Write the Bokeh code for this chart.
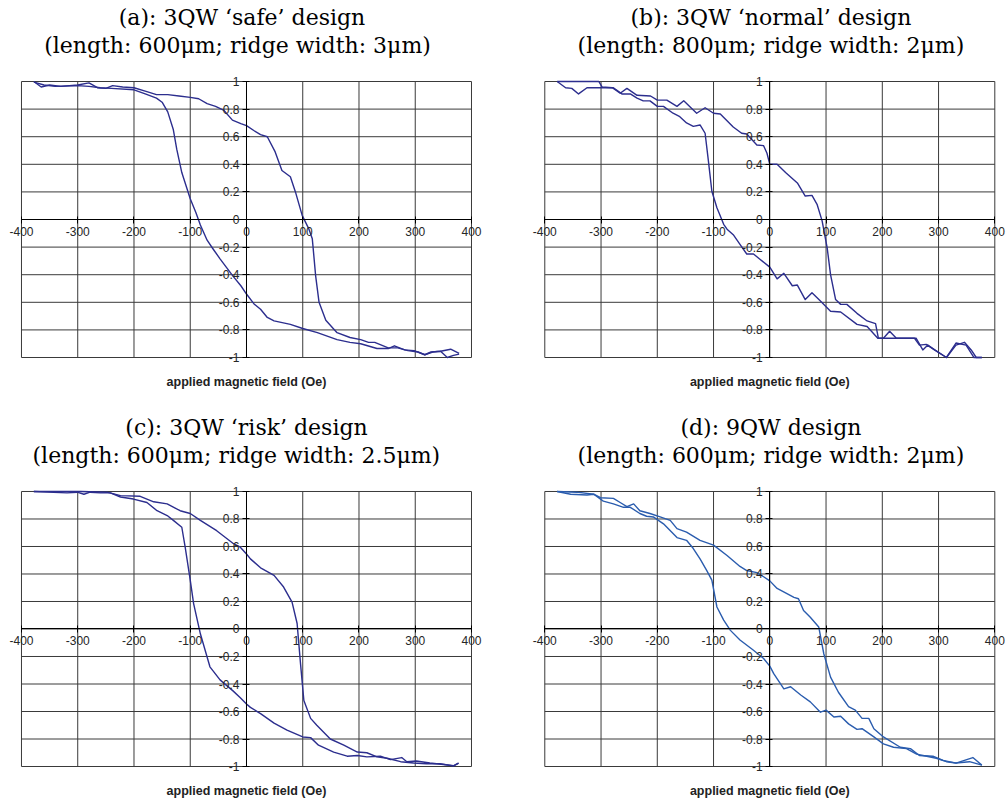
from bokeh.plotting import figure
from bokeh.models import Range1d, FixedTicker, LinearAxis, Label
from bokeh.layouts import column, row
from bokeh.embed import file_html
from bokeh.resources import INLINE

# Axis ticks and their labels
x_ticks = [-400, -300, -200, -100, 0, 100, 200, 300, 400]
x_tick_labels = ["-400", "-300", "-200", "-100", "0", "100", "200", "300", "400"]
y_ticks = [-1, -0.8, -0.6, -0.4, -0.2, 0, 0.2, 0.4, 0.6, 0.8, 1]
y_tick_labels = ["-1", "-0.8", "-0.6", "-0.4", "-0.2", "0", "0.2", "0.4", "0.6", "0.8", "1"]

x_label = "applied magnetic field (Oe)"

# (a) 3QW 'safe' design
a_up_x = [-378, -365, -350, -330, -300, -280, -265, -250, -238, -220, -200, -180, -160, -140, -120,
          -100, -85, -70, -55, -40, -25, -10, 0, 13, 25, 37, 51, 63, 78, 87, 99, 111, 117, 123, 129,
          141, 161, 184, 203, 217, 228, 252, 269, 287, 305, 317, 331, 345, 357, 368, 378]
a_up_y = [1.0, 0.96, 0.975, 0.965, 0.975, 0.99, 0.955, 0.95, 0.97, 0.96, 0.955, 0.93, 0.905, 0.905, 0.895,
          0.885, 0.875, 0.84, 0.82, 0.79, 0.72, 0.695, 0.68, 0.645, 0.615, 0.6, 0.49, 0.355, 0.31, 0.2,
          0.03, -0.07, -0.14, -0.41, -0.6, -0.73, -0.82, -0.855, -0.87, -0.89, -0.89, -0.93, -0.93, -0.95,
          -0.96, -0.98, -0.96, -0.955, -1.0, -0.985, -0.975]
a_dn_x = [-378, -360, -340, -300, -280, -260, -240, -200, -180, -160, -150, -140, -130, -124, -115,
          -100, -90, -82, -70, -60, -47, -35, -24, -10, 0, 13, 25, 37, 49, 78, 100, 126, 161, 184, 203,
          232, 252, 263, 281, 298, 317, 328, 345, 363, 378]
a_dn_y = [0.995, 0.975, 0.965, 0.97, 0.965, 0.955, 0.95, 0.94, 0.91, 0.88, 0.85, 0.78, 0.65, 0.51, 0.34,
          0.15, 0.05, -0.04, -0.15, -0.21, -0.285, -0.35, -0.41, -0.48, -0.54, -0.61, -0.65, -0.71, -0.735,
          -0.76, -0.79, -0.82, -0.87, -0.89, -0.9, -0.935, -0.935, -0.915, -0.945, -0.95, -0.98, -0.96,
          -0.955, -0.94, -0.97]

# (b) 3QW 'normal' design
b_up_x = [-378, -304, -298, -280, -266, -254, -236, -212, -200, -183, -165, -153, -130, -115, -100,
          -88, -65, -50, -41, -23, -11, -5, 0, 13, 28, 49, 63, 75, 84, 93, 102, 108, 117, 126, 137,
          155, 173, 188, 193, 202, 213, 225, 243, 260, 272, 281, 293, 314, 331, 349, 363, 377]
b_up_y = [1.0, 1.0, 0.96, 0.955, 0.915, 0.95, 0.9, 0.895, 0.865, 0.865, 0.82, 0.86, 0.77, 0.81, 0.77,
          0.765, 0.67, 0.625, 0.62, 0.54, 0.535, 0.48, 0.4, 0.4, 0.34, 0.265, 0.17, 0.175, 0.11, -0.01,
          -0.205, -0.4, -0.58, -0.615, -0.615, -0.68, -0.735, -0.755, -0.86, -0.86, -0.81, -0.86, -0.86,
          -0.86, -0.945, -0.91, -0.945, -1.0, -0.895, -0.91, -1.0, -1.0]
b_dn_x = [-378, -363, -352, -340, -325, -302, -278, -263, -248, -236, -225, -213, -200, -189, -172,
          -160, -148, -136, -124, -115, -109, -103, -94, -82, -76, -65, -53, -41, -29, -17, 0, 13, 25,
          40, 49, 63, 75, 90, 108, 126, 155, 173, 192, 227, 257, 266, 278, 293, 314, 331, 346, 358, 367, 377]
b_dn_y = [1.0, 0.955, 0.95, 0.91, 0.955, 0.955, 0.955, 0.91, 0.91, 0.88, 0.86, 0.86, 0.82, 0.82, 0.77,
          0.745, 0.7, 0.675, 0.685, 0.625, 0.42, 0.205, 0.085, -0.035, -0.07, -0.11, -0.18, -0.25, -0.25,
          -0.29, -0.345, -0.43, -0.39, -0.48, -0.475, -0.58, -0.53, -0.59, -0.665, -0.67, -0.76, -0.775,
          -0.86, -0.86, -0.86, -0.91, -0.905, -0.945, -1.0, -0.91, -0.89, -0.945, -1.0, -1.0]

# (c) 3QW 'risk' design
c_up_x = [-378, -295, -248, -224, -189, -165, -141, -118, -100, -82, -53, -23, -11, 0, 7, 25, 49, 66,
          81, 90, 96, 102, 114, 125, 149, 173, 197, 214, 232, 250, 274, 297, 320, 344, 368, 377]
c_up_y = [1.0, 1.0, 0.995, 0.97, 0.965, 0.925, 0.91, 0.86, 0.84, 0.79, 0.715, 0.62, 0.595, 0.545, 0.51,
          0.445, 0.39, 0.305, 0.195, 0.04, -0.25, -0.52, -0.65, -0.7, -0.8, -0.845, -0.895, -0.9, -0.93,
          -0.94, -0.965, -0.975, -0.98, -0.98, -0.995, -0.975]
c_dn_x = [-378, -319, -301, -289, -278, -260, -242, -224, -201, -177, -159, -141, -130, -115, -109,
          -100, -94, -82, -65, -47, -24, -11, 0, 7, 25, 49, 72, 100, 114, 128, 155, 179, 197, 214, 238,
          256, 276, 285, 302, 326, 350, 368, 377]
c_dn_y = [1.0, 0.99, 0.995, 0.98, 0.995, 0.99, 0.99, 0.96, 0.945, 0.92, 0.86, 0.825, 0.79, 0.74, 0.595,
          0.355, 0.185, -0.035, -0.275, -0.37, -0.45, -0.5, -0.545, -0.57, -0.615, -0.685, -0.735, -0.785,
          -0.79, -0.845, -0.895, -0.925, -0.92, -0.93, -0.925, -0.95, -0.935, -0.965, -0.96, -0.975,
          -0.985, -0.995, -0.975]

# (d) 9QW design
d_up_x = [-378, -343, -313, -301, -278, -266, -254, -242, -231, -213, -195, -177, -165, -148, -124,
          -100, -76, -53, -41, -23, -11, 0, 13, 43, 51, 60, 72, 87, 96, 108, 122, 140, 152, 164, 176,
          185, 202, 232, 250, 266, 290, 308, 331, 346, 361, 377]
d_up_y = [1.0, 0.995, 0.98, 0.955, 0.95, 0.92, 0.89, 0.91, 0.86, 0.84, 0.815, 0.79, 0.73, 0.705, 0.645,
          0.61, 0.535, 0.455, 0.425, 0.41, 0.38, 0.35, 0.295, 0.23, 0.22, 0.135, 0.085, 0.015, -0.18, -0.35,
          -0.46, -0.565, -0.59, -0.65, -0.65, -0.725, -0.785, -0.86, -0.87, -0.92, -0.925, -0.955, -0.975,
          -0.955, -0.935, -0.99]
d_dn_x = [-378, -354, -325, -313, -296, -278, -260, -248, -231, -219, -207, -189, -165, -148, -136,
          -124, -112, -103, -94, -82, -70, -53, -29, -11, 0, 7, 25, 37, 55, 72, 90, 100, 114, 126, 140,
          155, 164, 185, 202, 220, 243, 261, 279, 296, 314, 331, 355, 377]
d_dn_y = [1.0, 0.98, 0.975, 0.98, 0.93, 0.91, 0.885, 0.885, 0.84, 0.82, 0.815, 0.765, 0.665, 0.645, 0.585,
          0.51, 0.425, 0.355, 0.16, 0.065, -0.01, -0.08, -0.155, -0.215, -0.27, -0.325, -0.435, -0.42,
          -0.48, -0.53, -0.605, -0.59, -0.64, -0.635, -0.69, -0.73, -0.725, -0.785, -0.835, -0.86, -0.87,
          -0.91, -0.925, -0.94, -0.965, -0.975, -0.965, -0.99]

TITLE_FONT = "DejaVu Serif"
TICK_FONT = "Liberation Sans"
GRID_COLOR = "#3a3a3a"


def panel(lines, title_x, up, dn, color, width, height, xr, yr):
    """One hysteresis panel; the frame fills the whole figure and the
    plotting box [-400, 400] x [-1, 1] sits inside it."""
    p = figure(width=width, height=height, title=None,
               x_range=Range1d(*xr), y_range=Range1d(*yr),
               x_axis_type=None, y_axis_type=None,
               toolbar_location=None, output_backend="svg",
               min_border=0)
    p.outline_line_color = None
    p.background_fill_color = "white"
    p.border_fill_color = "white"

    x_lo, x_hi = x_ticks[0], x_ticks[-1]
    y_lo, y_hi = y_ticks[0], y_ticks[-1]

    # grid box: one line per tick, limited to the tick extent
    p.segment(x0=x_ticks, y0=[y_lo] * len(x_ticks), x1=x_ticks, y1=[y_hi] * len(x_ticks),
              line_color=GRID_COLOR, line_width=1)
    p.segment(x0=[x_lo] * len(y_ticks), y0=y_ticks, x1=[x_hi] * len(y_ticks), y1=y_ticks,
              line_color=GRID_COLOR, line_width=1)

    xt = FixedTicker(ticks=x_ticks)
    yt = FixedTicker(ticks=y_ticks)
    xa = LinearAxis(ticker=xt, fixed_location=0, bounds=(x_lo, x_hi),
                    major_label_overrides=dict(zip(x_ticks, x_tick_labels)))
    ya = LinearAxis(ticker=yt, fixed_location=0, bounds=(y_lo, y_hi),
                    major_label_overrides=dict(zip(y_ticks, y_tick_labels)))
    for ax in (xa, ya):
        ax.axis_line_color = "black"
        ax.axis_line_width = 1
        ax.major_tick_line_color = "black"
        ax.major_tick_in = 3
        ax.major_tick_out = 4
        ax.minor_tick_line_color = None
        ax.major_label_text_font = TICK_FONT
        ax.major_label_text_font_size = "12px"
        ax.major_label_text_color = "#262626"
        ax.major_label_standoff = 3
    p.add_layout(xa, "below")
    p.add_layout(ya, "left")

    p.line(up[0], up[1], line_color=color, line_width=1.4, line_join="round")
    p.line(dn[0], dn[1], line_color=color, line_width=1.4, line_join="round")

    # two-line heading above the box, axis caption below it
    for text, tx, ty in zip(lines, title_x, (1.464, 1.262)):
        p.add_layout(Label(x=tx, y=ty, text=text, text_align="center", text_baseline="middle",
                           text_font=TITLE_FONT, text_font_size="22px", text_color="black"))
    p.add_layout(Label(x=0, y=-1.175, text=x_label, text_align="center", text_baseline="middle",
                       text_font=TICK_FONT, text_font_size="12.5px", text_font_style="bold",
                       text_color="#222222"))
    return p


navy = "#2C2E8E"
blue = "#2A5CAE"

# data ranges of each figure's frame (box spans -400..400 and -1..1)
left_xr = (-437.3, 456.9)
right_xr = (-473.4, 420.8)
top_yr = (-1.384, 1.587)
bottom_yr = (-1.2545, 1.589)

pa = panel(("(a): 3QW \u2018safe\u2019 design", "(length: 600\u03bcm; ridge width: 3\u03bcm)"), (-8, -16),
           (a_up_x, a_up_y), (a_dn_x, a_dn_y), navy, 503, 410, left_xr, top_yr)
pb = panel(("(b): 3QW \u2018normal\u2019 design", "(length: 800\u03bcm; ridge width: 2\u03bcm)"), (2, 2),
           (b_up_x, b_up_y), (b_dn_x, b_dn_y), navy, 503, 410, right_xr, top_yr)
pc = panel(("(c): 3QW \u2018risk\u2019 design", "(length: 600\u03bcm; ridge width: 2.5\u03bcm)"), (0, -18),
           (c_up_x, c_up_y), (c_dn_x, c_dn_y), navy, 503, 391, left_xr, bottom_yr)
pd = panel(("(d): 9QW design", "(length: 600\u03bcm; ridge width: 2\u03bcm)"), (2, 2),
           (d_up_x, d_up_y), (d_dn_x, d_dn_y), blue, 503, 391, right_xr, bottom_yr)

layout = column(row(pa, pb), row(pc, pd))

with open("out.html", "w") as f:
    f.write(file_html(layout, INLINE))
